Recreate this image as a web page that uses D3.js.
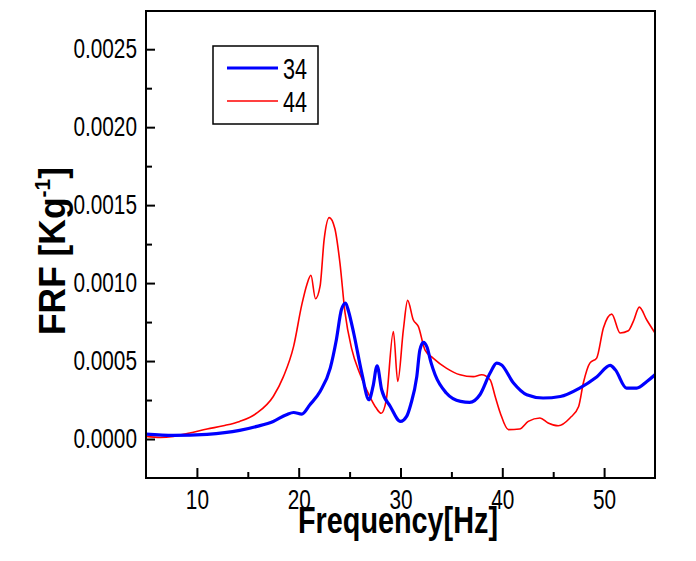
<!DOCTYPE html>
<html><head><meta charset="utf-8">
<script src="https://cdn.jsdelivr.net/npm/d3@7"></script>
<style>body{margin:0;background:#fff}svg{display:block}</style>
</head><body>
<svg id="c" width="696" height="561"></svg>
<script>
const freq34 = [5, 7.7, 11, 14.2, 15.9, 17.5, 18.8, 19.5, 20.3, 21.1, 22.1, 23.1, 23.7, 24.2, 24.6, 24.9, 25.4, 26.2, 26.9, 27.3, 27.7, 28.15, 29.0, 30.0, 30.6, 31.0, 31.6, 31.9, 32.25, 32.6, 33.0, 33.4, 34.5, 35.9, 36.8, 37.8, 38.8, 39.45, 39.9, 41.1, 42.4, 44.0, 45.7, 47.6, 49.3, 50.6, 51.1, 52.2, 53.2, 54.2, 55];
const val34 = [0.000032, 0.000023, 0.00003, 0.000055, 0.000081, 0.000113, 0.000156, 0.00017, 0.00016, 0.00022, 0.000305, 0.000455, 0.000637, 0.00083, 0.000872, 0.000818, 0.00068, 0.000423, 0.000252, 0.000337, 0.00047, 0.000316, 0.000209, 0.000113, 0.000145, 0.00022, 0.0004, 0.00057, 0.00062, 0.00059, 0.00049, 0.000412, 0.000295, 0.000241, 0.000235, 0.000284, 0.000423, 0.000487, 0.000476, 0.000359, 0.000284, 0.000263, 0.000273, 0.000327, 0.0004, 0.000472, 0.000444, 0.000327, 0.000327, 0.000369, 0.000412];

const freq44 = [5, 6.4, 7.7, 9.3, 11, 12.6, 14.2, 15.9, 17.5, 18.5, 19.5, 20.3, 20.8, 21.2, 21.65, 22.1, 22.5, 23.0, 23.55, 24.05, 24.55, 25.2, 26.0, 27.0, 27.6, 28.1, 28.6, 29.3, 29.73, 30.28, 30.7, 31.25, 31.75, 32.4, 33.2, 34.5, 35.85, 37.15, 37.97, 38.8, 39.3, 39.8, 40.6, 41.7, 42.55, 43.7, 44.5, 45.5, 46.65, 47.5, 47.96, 48.6, 49.27, 49.93, 50.75, 51.57, 52.38, 52.87, 53.46, 54.18, 55];
const val44 = [0.000017, 0.00001, 0.000017, 0.000038, 0.000064, 0.000085, 0.000113, 0.000167, 0.000273, 0.0004, 0.000594, 0.00086, 0.00099, 0.00105, 0.0009, 0.00098, 0.00128, 0.00142, 0.00135, 0.00113, 0.00081, 0.00058, 0.00042, 0.00027, 0.0002, 0.000165, 0.00025, 0.00069, 0.000369, 0.0007, 0.000889, 0.000765, 0.000722, 0.000572, 0.000519, 0.000455, 0.000412, 0.0004, 0.000412, 0.00038, 0.000273, 0.000167, 0.00006, 0.000064, 0.000113, 0.000135, 0.000103, 0.000085, 0.000135, 0.000209, 0.000359, 0.000487, 0.000519, 0.000712, 0.000801, 0.00068, 0.000694, 0.000754, 0.000846, 0.000765, 0.00068];

const seriesNames = ["34", "44"];
const seriesColors = ["#0000ff", "#ff0000"];
const xMajor = [10, 20, 30, 40, 50];
const xMinor = [15, 25, 35, 45];
const yMajor = [0, 0.0005, 0.0010, 0.0015, 0.0020, 0.0025];
const yMinor = [0.00025, 0.00075, 0.00125, 0.00175, 0.00225];
const xTitle = "Frequency[Hz]";

const L = 146, R = 655, T = 11, B = 478;
const svg = d3.select("#c");
const x = d3.scaleLinear().domain([5, 55]).range([L, R]);
const y = d3.scaleLinear().domain([-0.00025, 0.002745]).range([B, T]);

const FONT = "'Liberation Sans', Arial, sans-serif";

// clip
svg.append("clipPath").attr("id", "clip").append("rect")
  .attr("x", L).attr("y", T).attr("width", R - L).attr("height", B - T);

// lines
const line = d3.line().x(d => x(d[0])).y(d => y(d[1])).curve(d3.curveMonotoneX);
const g = svg.append("g").attr("clip-path", "url(#clip)");
g.append("path").datum(freq44.map((f, i) => [f, val44[i]]))
  .attr("d", line).attr("fill", "none").attr("stroke", seriesColors[1]).attr("stroke-width", 1.6);
g.append("path").datum(freq34.map((f, i) => [f, val34[i]]))
  .attr("d", line).attr("fill", "none").attr("stroke", seriesColors[0]).attr("stroke-width", 3.2);

// axes
const xAxis = d3.axisBottom(x).tickValues(xMajor).tickSize(-10).tickSizeOuter(0).tickPadding(12).tickFormat(d3.format("d"));
const xAxisMinor = d3.axisBottom(x).tickValues(xMinor).tickSize(-6).tickSizeOuter(0).tickFormat("");
const yAxis = d3.axisLeft(y).tickValues(yMajor).tickSize(-9).tickSizeOuter(0).tickPadding(9).tickFormat(d3.format(".4f"));
const yAxisMinor = d3.axisLeft(y).tickValues(yMinor).tickSize(-6).tickSizeOuter(0).tickFormat("");

function style(sel) {
  sel.selectAll("path.domain").remove();
  sel.selectAll("line").attr("stroke", "#000").attr("stroke-width", 2);
  sel.selectAll("text").attr("font-family", FONT).attr("font-size", 27).attr("fill", "#000");
}
svg.append("g").attr("transform", `translate(0,${B})`).call(xAxis).call(style);
svg.append("g").attr("transform", `translate(0,${B})`).call(xAxisMinor).call(style);
svg.append("g").attr("transform", `translate(${L},0)`).call(yAxis).call(style);
svg.append("g").attr("transform", `translate(${L},0)`).call(yAxisMinor).call(style);

// frame
svg.append("rect").attr("x", L).attr("y", T).attr("width", R - L).attr("height", B - T)
  .attr("fill", "none").attr("stroke", "#000").attr("stroke-width", 2);

// condense tick labels
svg.selectAll(".tick text").each(function () {
  const w = this.getComputedTextLength();
  d3.select(this).attr("textLength", w * 0.77).attr("lengthAdjust", "spacingAndGlyphs");
});

// axis titles
svg.append("text").attr("x", 398).attr("y", 533).attr("text-anchor", "middle")
  .attr("font-family", FONT).attr("font-weight", "bold").attr("font-size", 37)
  .attr("textLength", 200).attr("lengthAdjust", "spacingAndGlyphs").text(xTitle);

const yt = svg.append("text").attr("transform", "translate(65,251) rotate(-90)")
  .attr("text-anchor", "middle").attr("font-family", FONT).attr("font-weight", "bold").attr("font-size", 37);
yt.append("tspan").text("FRF [Kg");
yt.append("tspan").attr("font-size", 22).attr("dy", -15).text("-1");
yt.append("tspan").attr("dy", 15).text("]");
// condense the rotated title
(function () {
  const w = yt.node().getComputedTextLength();
  yt.attr("transform", `translate(65,251) rotate(-90) scale(${168 / w},1)`);
})();

// legend
const lg = svg.append("g");
lg.append("rect").attr("x", 213).attr("y", 46).attr("width", 105).attr("height", 78)
  .attr("fill", "#fff").attr("stroke", "#000").attr("stroke-width", 1.5);
seriesNames.forEach((n, i) => {
  const yy = 68 + i * 33;
  lg.append("line").attr("x1", 227).attr("x2", 278).attr("y1", yy).attr("y2", yy)
    .attr("stroke", seriesColors[i]).attr("stroke-width", i === 0 ? 3.2 : 1.6);
  lg.append("text").attr("x", 283).attr("y", yy + 10.5).attr("font-family", FONT).attr("font-size", 29)
    .attr("textLength", 24).attr("lengthAdjust", "spacingAndGlyphs").text(n);
});
</script>
</body></html>
